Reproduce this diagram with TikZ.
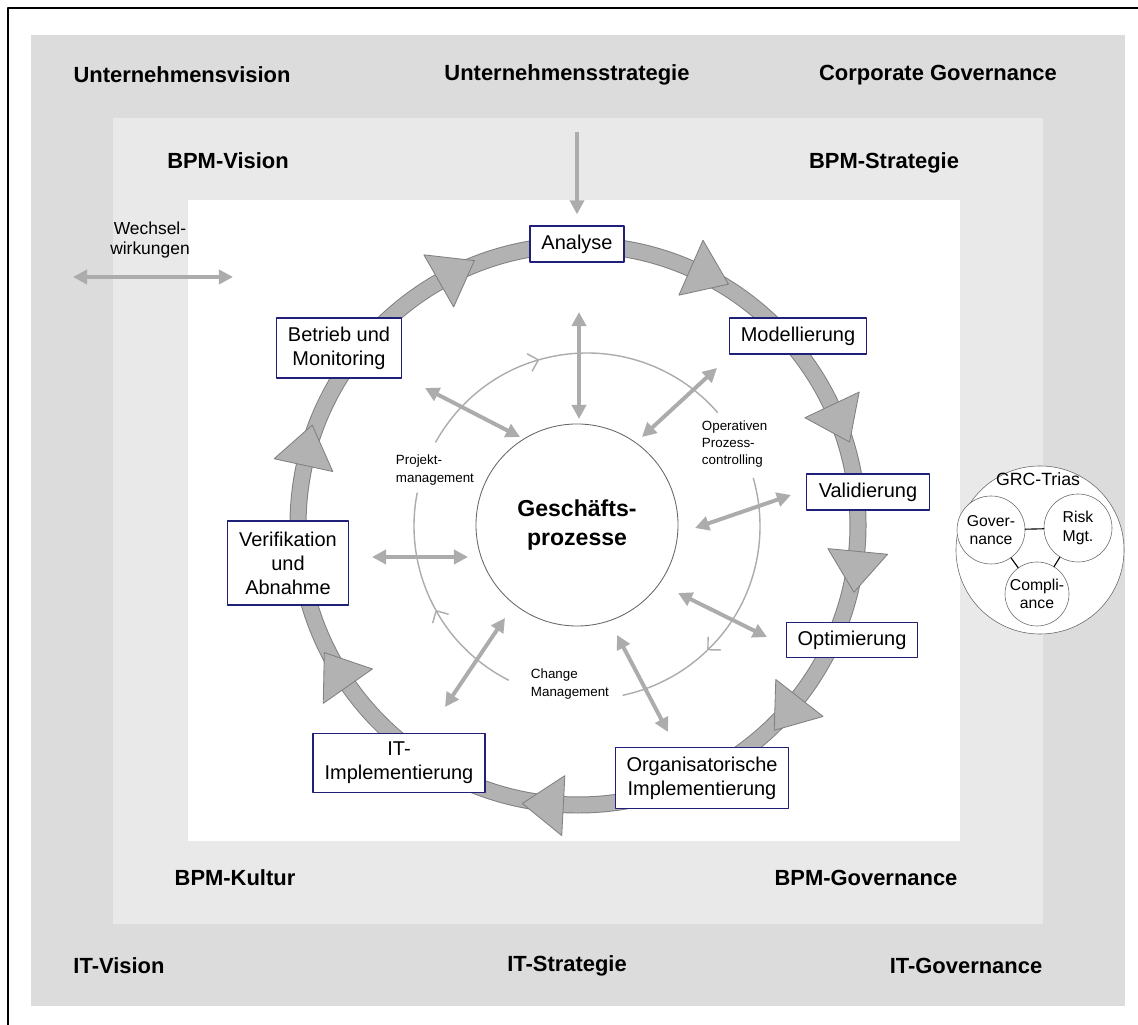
\documentclass[tikz,border=0pt]{standalone}
\usepackage{fontspec}
\setmainfont{Liberation Sans}
\usetikzlibrary{arrows.meta}
\definecolor{outergray}{RGB}{220,220,220}
\definecolor{innergray}{RGB}{233,233,233}
\definecolor{ringgray}{RGB}{178,178,178}
\definecolor{ringedge}{RGB}{128,128,128}
\definecolor{boxblue}{RGB}{32,32,120}
\definecolor{arrowgray}{RGB}{172,172,172}

\begin{document}
\begin{tikzpicture}[line cap=round,line join=round,x=0.025cm,y=0.025cm,
  layer/.style={font=\fontsize{15.6}{18}\selectfont\bfseries},
  phase/.style={draw=boxblue,line width=0.9pt,fill=white,inner sep=0pt,align=center,font=\fontsize{14.2}{17}\selectfont},
  tri/.style={fill=ringgray,draw=ringedge,line width=0.6pt},
  wirk/.style={arrowgray,line width=2.8pt,line cap=butt,{Triangle[length=10pt,width=10pt]}-{Triangle[length=10pt,width=10pt]}},
  kreis/.style={arrowgray,line width=1pt},
  barb/.style={-{Straight Barb[length=6.5pt,width=13pt]}},
  small/.style={font=\fontsize{9.5}{12.3}\selectfont,align=left,anchor=west},
  grc/.style={circle,draw=black!60,fill=white,inner sep=0pt,align=center,font=\fontsize{11.2}{13}\selectfont}]
\useasboundingbox (0,0) rectangle (1138,1025);
\draw [line width=2pt,line cap=butt] (8,0) -- (8,1017) -- (1138,1017);
% frames
\fill [outergray] (31,19) rectangle (1125,990);
\fill [innergray] (113,101) rectangle (1043,907);
\fill [white] (188,184) rectangle (960,825);
\node[layer] (uvis) at (182,950) {Unternehmensvision};
\node[layer] (ustr) at (567,950) {Unternehmensstrategie};
\node[layer] (cgov) at (938,950) {Corporate Governance};
\node[layer] (bvis) at (228,864) {BPM-Vision};
\node[layer] (bstr) at (884,862) {BPM-Strategie};
\node[layer] (bkul) at (235,147) {BPM-Kultur};
\node[layer] (bgov) at (866,147) {BPM-Governance};
\node[layer] (itvis) at (119,59) {IT-Vision};
\node[layer] (itstr) at (567,59) {IT-Strategie};
\node[layer] (itgov) at (966,59) {IT-Governance};
% lifecycle ring
\draw [ringedge,line width=12.1pt] (578,500) circle[radius=280];
\draw [ringgray,line width=10.7pt] (578,500) circle[radius=280];
\foreach \a in {119.7,66.3,25.3,-5.4,-38,-93,215,167.7}
  \draw [tri,shift={(578,500)},rotate=\a] (251,0) -- (311,0) -- (281,-41) -- cycle;
\node[phase,minimum width=2.35cm,minimum height=0.9cm] (ana) at (577,781) {Analyse};
\node[phase,minimum width=3.425cm,minimum height=0.9cm] (mod) at (798,689) {Modellierung};
\node[phase,minimum width=3.075cm,minimum height=0.9cm] (val) at (868,533) {Validierung};
\node[phase,minimum width=3.275cm,minimum height=0.875cm] (opt) at (852,385) {Optimierung};
\node[phase,minimum width=4.325cm,minimum height=1.525cm] (orgimp) at (702,247) {Organisatorische\\Implementierung};
\node[phase,minimum width=4.3cm,minimum height=1.475cm] (itimp) at (399,262) {IT-\\Implementierung};
\node[phase,minimum width=3.025cm,minimum height=2.1cm] (ver) at (288,462) {Verifikation\\und\\Abnahme};
\node[phase,minimum width=3.125cm,minimum height=1.5cm] (betr) at (339,677) {Betrieb und\\Monitoring};
% inner circle
\draw [kreis,barb] (587,499) ++(243:173) arc[start angle=243,end angle=209,radius=173];
\draw [kreis] (587,499) ++(209:173) arc[start angle=209,end angle=169,radius=173];
\draw [kreis,barb] (587,499) ++(151:173) arc[start angle=151,end angle=106,radius=173];
\draw [kreis] (587,499) ++(106:173) arc[start angle=106,end angle=41,radius=173];
\draw [kreis,barb] (587,499) ++(16:173) arc[start angle=16,end angle=-46,radius=173];
\draw [kreis] (587,499) ++(-46:173) arc[start angle=-46,end angle=-78,radius=173];
\node[small] (pm) at (391,555) {Projekt-\\management};
\node[small] (opc) at (697,581) {Operativen\\Prozess-\\controlling};
\node[small] (cm) at (526,341) {Change\\Management};
\node[circle,draw=black!60,line width=0.6pt,fill=white,minimum size=5.05cm,inner sep=0pt,align=center,
  font=\fontsize{16.4}{20}\selectfont\bfseries] (gp) at (577,500) {Geschäfts-\\prozesse};
\foreach \s/\e [count=\i] in {{579,713}/{579,606},{425,637}/{520,588},{717,657}/{642,588},{791,530}/{695,497},
    {678,432}/{767,388},{617,390}/{668,293},{505,407}/{445,318},{372,468}/{468,468}}{
  \coordinate (w\i a) at (\s);
  \coordinate (w\i b) at (\e);
  \draw [wirk] (w\i a) -- (w\i b);
}
\coordinate (strat) at (577,893);
\draw [arrowgray,line width=2.8pt,line cap=butt,-{Triangle[length=10pt,width=10pt]}] (strat) -- ([yshift=0.275cm]ana.north);
% Wechselwirkungen
\node[font=\fontsize{12.4}{14}\selectfont,align=center] (wech) at (150,785) {Wechsel-\\wirkungen};
\coordinate (wl) at (73,748);
\coordinate (wr) at (233,748);
\draw [wirk,line width=2.5pt] (wl) -- (wr);
% GRC
\node[grc,minimum size=4.2cm] (trias) at (1040,475) {};
\node[font=\fontsize{12.6}{14}\selectfont] (triast) at (1038,546) {GRC-Trias};
\node[grc,minimum size=1.7cm] (gov) at (991,495) {Gover-\\nance};
\node[grc,minimum size=1.7cm] (risk) at (1078,497) {Risk\\Mgt.};
\node[grc,minimum size=1.6cm] (comp) at (1037,431) {Compli-\\ance};
\draw [line width=0.8pt] (gov) -- (risk);
\draw [line width=0.8pt] (gov) -- (comp);
\draw [line width=0.8pt] (risk) -- (comp);
\end{tikzpicture}
\end{document}
